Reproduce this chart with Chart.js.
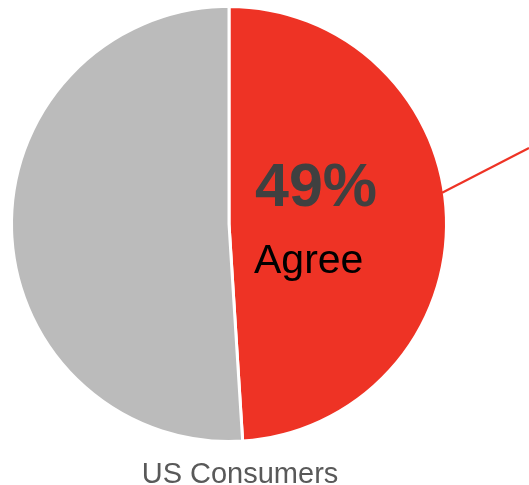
<!DOCTYPE html>
<html>
<head>
<meta charset="utf-8">
<script src="https://cdn.jsdelivr.net/npm/chart.js@4"></script>
<style>
  html, body { margin: 0; padding: 0; background: #ffffff; }
  #wrap { width: 529px; height: 485px; position: relative; }
</style>
</head>
<body>
<div id="wrap"><canvas id="c" width="529" height="485"></canvas></div>
<script>
// Survey result: share of US consumers who agree
const categories = ['Agree', 'Other'];
const shares = [49, 51];
const sliceColors = ['#EE3325', '#BBBBBB'];
const groupLabel = 'US Consumers';

// Labels on the highlighted slice plus a leader line leaving it to the right
const sliceAnnotations = {
  id: 'sliceAnnotations',
  afterDatasetsDraw(chart) {
    const ctx = chart.ctx;
    const arc = chart.getDatasetMeta(0).data[0];
    const cx = arc.x, cy = arc.y, r = arc.outerRadius;

    // leader line from the slice edge
    const a = -8.5 * Math.PI / 180;
    const sx = cx + r * Math.cos(a);
    const sy = cy + r * Math.sin(a);
    const dirA = -27.3 * Math.PI / 180;
    const len = (chart.width - sx) / Math.cos(dirA);
    ctx.save();
    ctx.strokeStyle = sliceColors[0];
    ctx.lineWidth = 2.2;
    ctx.beginPath();
    ctx.moveTo(sx - 2, sy + 1);
    ctx.lineTo(sx + len * Math.cos(dirA), sy + len * Math.sin(dirA));
    ctx.stroke();

    // value and category text
    ctx.textAlign = 'left';
    ctx.textBaseline = 'alphabetic';
    ctx.fillStyle = '#404040';
    ctx.font = 'bold 61px "Liberation Sans", Arial, sans-serif';
    ctx.fillText(shares[0] + '%', cx + 26, cy - 18);
    ctx.fillStyle = '#000000';
    ctx.font = '41px "Liberation Sans", Arial, sans-serif';
    ctx.fillText(categories[0], cx + 25, cy + 49);

    // group caption under the pie
    ctx.textAlign = 'center';
    ctx.fillStyle = '#595959';
    ctx.font = '29px "Liberation Sans", Arial, sans-serif';
    ctx.fillText(groupLabel, cx + 11, chart.height - 2);
    ctx.restore();
  }
};

new Chart(document.getElementById('c'), {
  type: 'pie',
  data: {
    labels: categories,
    datasets: [{
      data: shares,
      backgroundColor: sliceColors,
      borderColor: '#ffffff',
      borderWidth: 3
    }]
  },
  options: {
    responsive: false,
    animation: false,
    layout: { padding: { left: 10, right: 81, top: 5, bottom: 42 } },
    plugins: {
      legend: { display: false },
      tooltip: { enabled: false }
    }
  },
  plugins: [sliceAnnotations]
});
</script>
</body>
</html>
